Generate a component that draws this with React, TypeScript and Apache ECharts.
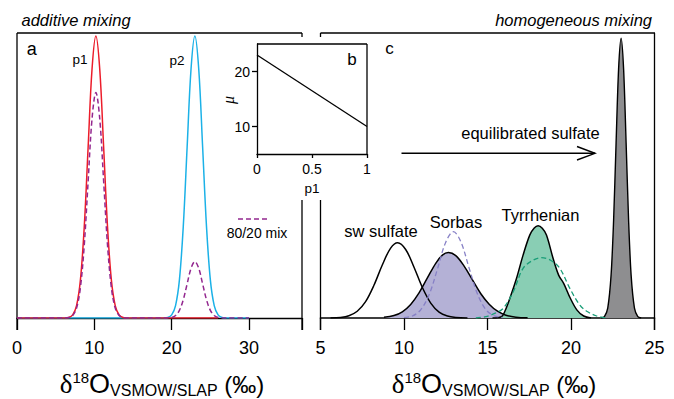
import React, { useEffect, useRef } from 'react';
import * as echarts from 'echarts';

// ---- panel a : additive mixing (x = δ18O, y = relative density) ----
const p1X = [0, 6.2, 6.7, 7.2, 7.7, 8.2, 8.7, 9.2, 9.7, 10.2, 10.7, 11.2, 11.7, 12.2, 12.7, 13.2, 13.7, 14.2, 26];
const p1Y = [0, 0.0003, 0.002, 0.011, 0.044, 0.135, 0.325, 0.607, 0.882, 1, 0.882, 0.607, 0.325, 0.135, 0.044, 0.011, 0.002, 0.0003, 0];
const p2X = [0, 19, 19.5, 20, 20.5, 21, 21.5, 22, 22.5, 23, 23.5, 24, 24.5, 25, 25.5, 26, 26.5, 27, 30];
const p2Y = [0, 0.0003, 0.002, 0.011, 0.044, 0.135, 0.325, 0.607, 0.882, 1, 0.882, 0.607, 0.325, 0.135, 0.044, 0.011, 0.002, 0.0003, 0];
const mixX = [0, 6.2, 6.7, 7.2, 7.7, 8.2, 8.7, 9.2, 9.7, 10.2, 10.7, 11.2, 11.7, 12.2, 12.7, 13.2, 13.7, 14.2,
  19, 19.5, 20, 20.5, 21, 21.5, 22, 22.5, 23, 23.5, 24, 24.5, 25, 25.5, 26, 26.5, 27, 30];
const mixY = [0, 0.0002, 0.0016, 0.009, 0.035, 0.108, 0.26, 0.486, 0.706, 0.8, 0.706, 0.486, 0.26, 0.108, 0.035, 0.009, 0.0016, 0.0002,
  0.0001, 0.0004, 0.002, 0.009, 0.027, 0.065, 0.121, 0.176, 0.2, 0.176, 0.121, 0.065, 0.027, 0.009, 0.002, 0.0004, 0.0001, 0];

// ---- panel b : inset μ vs p1 ----
const insetP1 = [0, 1];
const insetMu = [23, 10];

// ---- panel c : homogeneous mixing ----
const swX = [5.6, 6.2, 6.7, 7.2, 7.7, 8.2, 8.7, 9.2, 9.62, 10.1, 10.6, 11.1, 11.6, 12.1, 12.6, 13.1, 13.8];
const swY = [0.0003, 0.002, 0.008, 0.024, 0.058, 0.116, 0.188, 0.248, 0.267, 0.243, 0.18, 0.108, 0.053, 0.021, 0.007, 0.002, 0.0003];
const sorbasX = [8.8, 9.4, 9.9, 10.4, 10.9, 11.4, 11.9, 12.3, 12.66, 13.1, 13.6, 14.1, 14.6, 15.1, 15.6, 16.1, 16.7, 17.4];
const sorbasY = [0.0023, 0.0086, 0.022, 0.048, 0.089, 0.142, 0.194, 0.223, 0.232, 0.221, 0.184, 0.135, 0.086, 0.049, 0.024, 0.01, 0.003, 0.0005];
const sorbasModelX = [10.0, 10.5, 11.0, 11.5, 12.0, 12.5, 12.96, 13.4, 13.9, 14.4, 14.9, 15.4, 15.9];
const sorbasModelY = [0.0014, 0.007, 0.029, 0.082, 0.173, 0.269, 0.306, 0.271, 0.177, 0.085, 0.03, 0.008, 0.0015];
const tyrX = [15.3, 15.84, 16.04, 16.34, 16.74, 17.13, 17.53, 17.8, 18.03, 18.28, 18.53, 18.93, 19.26, 19.56, 19.96, 20.36, 20.76, 21.2];
const tyrY = [0, 0.005, 0.024, 0.07, 0.141, 0.223, 0.294, 0.319, 0.327, 0.318, 0.294, 0.211, 0.152, 0.123, 0.07, 0.028, 0.007, 0];
const tyrModelX = [14.3, 14.9, 15.5, 15.94, 16.54, 17.13, 17.7, 18.23, 18.8, 19.33, 19.93, 20.53, 21.0, 21.5, 22.1];
const tyrModelY = [0, 0.005, 0.018, 0.034, 0.093, 0.176, 0.204, 0.214, 0.204, 0.176, 0.105, 0.046, 0.022, 0.008, 0];
const eqX = [21.8, 22.0, 22.2, 22.4, 22.55, 22.7, 22.85, 23.0, 23.15, 23.3, 23.45, 23.6, 23.8, 24.0, 24.2];
const eqY = [0, 0.005, 0.035, 0.152, 0.345, 0.621, 0.883, 0.992, 0.883, 0.621, 0.345, 0.152, 0.035, 0.005, 0];

const leftTicks = { min: 0, max: 36.85, interval: 10 };
const rightTicks = { min: 5, max: 25, interval: 5 };
const insetYTicks = [10, 20];

const FONT = '"Liberation Sans", Arial, Helvetica, sans-serif';
const SERIF = '"Liberation Serif", "DejaVu Serif", serif';
const Y_MAX = 1.0106;

const pairs = (xs: number[], ys: number[]) => xs.map((x, i) => [x, ys[i]]);

function line(x1: number, y1: number, x2: number, y2: number, w = 1.3, color = '#000', dash?: number[]) {
  return { type: 'line', silent: true, shape: { x1, y1, x2, y2 }, style: { stroke: color, lineWidth: w, lineDash: dash } };
}
function text(x: number, y: number, t: string, size: number, align = 'center', extra: any = {}) {
  return {
    type: 'text', silent: true, x, y,
    style: { text: t, fill: '#000', fontSize: size, fontFamily: FONT, textAlign: align, textVerticalAlign: 'middle', ...extra },
  };
}
function axisTitle(cx: number) {
  return {
    type: 'text', silent: true, x: cx, y: 370,
    style: {
      text: '{d|δ}{s|18}{o|O}{b|VSMOW/SLAP}{p| (‰)}',
      fill: '#000', textAlign: 'center', textVerticalAlign: 'top',
      rich: {
        d: { fontFamily: SERIF, fontSize: 27, lineHeight: 28, fill: '#000' },
        s: { fontFamily: FONT, fontSize: 15, lineHeight: 13, verticalAlign: 'top', fill: '#000' },
        o: { fontFamily: FONT, fontSize: 27, lineHeight: 28, fill: '#000' },
        b: { fontFamily: FONT, fontSize: 16, lineHeight: 13, verticalAlign: 'bottom', fill: '#000' },
        p: { fontFamily: FONT, fontSize: 24, lineHeight: 28, fill: '#000' },
      },
    },
  };
}

const baseSeries = { type: 'line', symbol: 'none', silent: true, smooth: 0.35 };

export default function App() {
  const ref = useRef<HTMLDivElement>(null);
  useEffect(() => {
    if (!ref.current) return;
    const chart = echarts.init(ref.current, undefined, { renderer: 'svg' });
    const axisLineStyle = { color: '#000', width: 1.3 };
    const option: any = {
      animation: false,
      backgroundColor: '#fff',
      textStyle: { fontFamily: FONT },
      grid: [
        { left: 17, top: 33, width: 285, height: 285 },
        { left: 320.5, top: 33, width: 334, height: 285 },
        { left: 257, top: 44, width: 110, height: 110 },
      ],
      xAxis: [
        {
          gridIndex: 0, type: 'value', ...leftTicks,
          axisLine: { show: true, lineStyle: axisLineStyle },
          axisTick: { show: true, length: 12, lineStyle: axisLineStyle },
          axisLabel: { fontSize: 18, color: '#000', margin: 21, fontFamily: FONT, formatter: (v: number) => (v % 10 === 0 ? String(v) : '') },
          splitLine: { show: false },
        },
        {
          gridIndex: 1, type: 'value', ...rightTicks,
          axisLine: { show: true, lineStyle: { color: '#000', width: 1.6 } },
          axisTick: { show: true, length: 12, lineStyle: axisLineStyle },
          axisLabel: { fontSize: 18, color: '#000', margin: 21, fontFamily: FONT },
          splitLine: { show: false },
        },
        {
          gridIndex: 2, type: 'value', min: 0, max: 1, interval: 0.5,
          axisLine: { show: true, lineStyle: axisLineStyle },
          axisTick: { show: true, length: 4, lineStyle: axisLineStyle },
          axisLabel: { fontSize: 14, color: '#000', margin: 8, fontFamily: FONT },
          splitLine: { show: false },
        },
      ],
      yAxis: [
        { gridIndex: 0, type: 'value', min: 0, max: Y_MAX, show: false },
        { gridIndex: 1, type: 'value', min: 0, max: Y_MAX, show: false },
        {
          gridIndex: 2, type: 'value', min: 5, max: 25, interval: 5,
          axisLine: { show: true, lineStyle: axisLineStyle },
          axisTick: { show: true, length: 5, lineStyle: axisLineStyle, customValues: insetYTicks },
          axisLabel: { fontSize: 14, color: '#000', margin: 7, fontFamily: FONT, customValues: insetYTicks },
          splitLine: { show: false },
        },
      ],
      series: [
        // panel a
        { ...baseSeries, xAxisIndex: 0, yAxisIndex: 0, data: pairs(p2X, p2Y), lineStyle: { color: '#1bb1e7', width: 1.5 } },
        { ...baseSeries, xAxisIndex: 0, yAxisIndex: 0, data: pairs(p1X, p1Y), lineStyle: { color: '#ec1c2a', width: 1.5 } },
        { ...baseSeries, xAxisIndex: 0, yAxisIndex: 0, data: pairs(mixX, mixY), lineStyle: { color: '#93278f', width: 1.5, type: [5, 3] } },
        // panel b
        { type: 'line', symbol: 'none', silent: true, xAxisIndex: 2, yAxisIndex: 2, data: pairs(insetP1, insetMu), lineStyle: { color: '#000', width: 1.3 } },
        // panel c fills + outlines
        { ...baseSeries, xAxisIndex: 1, yAxisIndex: 1, data: pairs(sorbasX, sorbasY), lineStyle: { color: '#000', width: 1.5 }, areaStyle: { color: '#b4b1d6', opacity: 1 } },
        { ...baseSeries, xAxisIndex: 1, yAxisIndex: 1, data: pairs(tyrX, tyrY), lineStyle: { color: '#000', width: 1.5 }, areaStyle: { color: '#89ceb4', opacity: 1 } },
        { ...baseSeries, smooth: 0.3, xAxisIndex: 1, yAxisIndex: 1, data: pairs(eqX, eqY), lineStyle: { color: '#000', width: 1.4 }, areaStyle: { color: '#8e8e90', opacity: 1 } },
        { ...baseSeries, xAxisIndex: 1, yAxisIndex: 1, data: pairs(swX, swY), lineStyle: { color: '#000', width: 1.5 } },
        { ...baseSeries, xAxisIndex: 1, yAxisIndex: 1, data: pairs(sorbasModelX, sorbasModelY), lineStyle: { color: '#8781c6', width: 1.3, type: [5, 3] } },
        { ...baseSeries, xAxisIndex: 1, yAxisIndex: 1, data: pairs(tyrModelX, tyrModelY), lineStyle: { color: '#1a9e78', width: 1.3, type: [5, 3] } },
      ],
      graphic: {
        elements: [
          // frames panel a
          line(17, 33, 17, 330),
          line(17, 33, 302, 33),
          line(302, 33, 302, 37),
          line(302, 200, 302, 330),
          // frames panel c
          line(320.5, 33, 655, 33),
          line(320.5, 33, 320.5, 37),
          line(320.5, 200, 320.5, 330),
          line(654.5, 33, 654.5, 330),
          // inset frame
          line(257, 44, 367, 44),
          line(367, 44, 367, 154),
          // arrow
          line(401.5, 153.3, 595, 153.3, 1.4),
          { type: 'polyline', silent: true, shape: { points: [[577, 146.5], [595, 153.3], [577, 160]] }, style: { stroke: '#000', lineWidth: 1.4, fill: 'none' } },
          // legend
          line(238, 219, 268, 219, 1.5, '#93278f', [5, 3]),
          text(257, 233, '80/20 mix', 14),
          // texts
          text(21.5, 19.5, 'additive mixing', 16.5, 'left', { fontStyle: 'italic' }),
          text(652, 20, 'homogeneous mixing', 16.5, 'right', { fontStyle: 'italic' }),
          text(31.7, 49, 'a', 18),
          text(80, 59.5, 'p1', 13.5),
          text(177, 60, 'p2', 13.5),
          text(352, 59, 'b', 17),
          text(389.5, 48, 'c', 17),
          text(312, 188, 'p1', 13.5),
          { type: 'text', silent: true, x: 228, y: 100, rotation: Math.PI / 2,
            style: { text: 'μ', fill: '#000', fontSize: 16, fontFamily: SERIF, fontStyle: 'italic', textAlign: 'center', textVerticalAlign: 'middle' } },
          text(530.5, 133, 'equilibrated sulfate', 16.5),
          text(381, 231, 'sw sulfate', 16.5),
          text(456, 221.5, 'Sorbas', 16.5),
          text(540.5, 214.5, 'Tyrrhenian', 16.5),
          axisTitle(162),
          axisTitle(494),
        ],
      },
    };
    chart.setOption(option);
    return () => chart.dispose();
  }, []);
  return <div ref={ref} style={{ position: 'absolute', left: 0, top: 0, width: 674, height: 399 }} />;
}
